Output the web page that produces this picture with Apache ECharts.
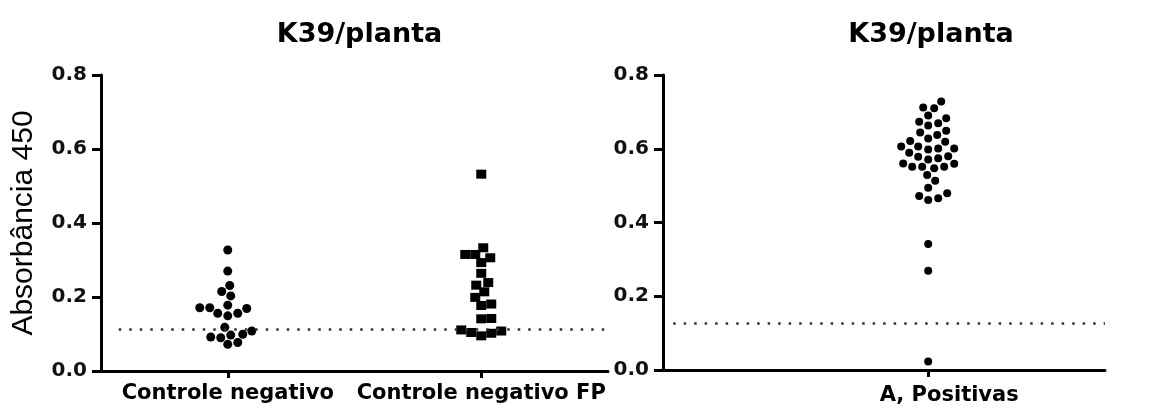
<!DOCTYPE html>
<html>
<head>
<meta charset="utf-8">
<script src="https://cdn.jsdelivr.net/npm/echarts@6/dist/echarts.min.js"></script>
<style>
  html, body { margin: 0; padding: 0; background: #fff; }
  #chart { width: 1168px; height: 408px; }
</style>
</head>
<body>
<div id="chart"></div>
<script>
// categories
const leftCategories = ["Controle negativo", "Controle negativo FP"];
const rightCategories = ["A, Positivas"];
const titles = ["K39/planta", "K39/planta"];

// absorbance values
const controleNegativo = [
  0.327, 0.270, 0.231, 0.215, 0.203, 0.178, 0.171, 0.156, 0.149, 0.156,
  0.169, 0.171, 0.118, 0.108, 0.097, 0.090, 0.099, 0.092, 0.072, 0.077
];
const controleNegativoFP = [
  0.532, 0.333, 0.315, 0.306, 0.315, 0.293, 0.264, 0.232, 0.239, 0.214,
  0.199, 0.177, 0.181, 0.142, 0.141, 0.111, 0.104, 0.095, 0.102, 0.108
];
const positivas = [
  0.728, 0.712, 0.710, 0.690, 0.683, 0.663, 0.669, 0.673, 0.644, 0.637,
  0.649, 0.628, 0.619, 0.621, 0.601, 0.598, 0.606, 0.606, 0.601, 0.589,
  0.580, 0.578, 0.571, 0.574, 0.559, 0.547, 0.551, 0.551, 0.551, 0.560,
  0.529, 0.513, 0.494, 0.479, 0.466, 0.461, 0.472, 0.342, 0.269, 0.023
];
// cut-off lines
const cutoffLeft = 0.113;
const cutoffRight = 0.128;

// layout
const G1 = { left: 101, top: 75, width: 507, height: 296 };
const G2 = { left: 663, top: 75, width: 442, height: 295 };
const yMax = 0.8;

// simple beeswarm: spread points sideways so they do not overlap (pixels)
function swarm(values, pxPerY, diam) {
  const order = values.map((v, i) => i).sort((a, b) => values[a] - values[b]);
  const placed = [];
  const xs = new Array(values.length);
  for (const i of order) {
    const y = values[i] * pxPerY;
    let best = 0;
    for (let k = 0; k < 400; k++) {
      const cand = k === 0 ? 0 : (k % 2 ? 1 : -1) * Math.ceil(k / 2);
      const ok = placed.every((p) => (p.x - cand) ** 2 + (p.y - y) ** 2 >= diam * diam);
      if (ok) { best = cand; break; }
    }
    placed.push({ x: best, y: y });
    xs[i] = best;
  }
  return xs;
}

function points(values, center, pxPerX, pxPerY, diam) {
  const off = swarm(values, pxPerY, diam);
  return values.map((v, i) => [center + off[i] / pxPerX, v]);
}

const pxX1 = G1.width / 2, pxY1 = G1.height / yMax;
const pxX2 = G2.width / 1, pxY2 = G2.height / yMax;
const rightCenter = 0.6;

const chart = echarts.init(document.getElementById("chart"));

const axisLine = { show: true, onZero: false, lineStyle: { color: "#000", width: 3 } };
const tickStyle = { color: "#000", width: 3 };
const tickFont = { fontFamily: "DejaVu Sans", fontWeight: "bold", fontSize: 20, color: "#111" };
const catFont = { fontFamily: "DejaVu Sans", fontWeight: "bold", fontSize: 21, color: "#000" };
const titleFont = { fontFamily: "DejaVu Sans", fontWeight: "bold", fontSize: 27, color: "#000" };

function yAxis(gridIndex, name) {
  return {
    gridIndex: gridIndex,
    type: "value",
    min: 0, max: yMax, interval: 0.2,
    name: name,
    nameLocation: "middle",
    nameGap: 62,
    nameTextStyle: { fontFamily: "Liberation Sans", fontSize: 30, color: "#000" },
    axisLine: axisLine,
    axisTick: { show: true, length: 9, lineStyle: tickStyle },
    axisLabel: Object.assign({ margin: 14, formatter: (v) => v.toFixed(1) }, tickFont),
    splitLine: { show: false }
  };
}

const dotted = { color: "#333", width: 2.5, type: [2.5, 8] };
const dotStyle = { color: "#000", opacity: 1 };

const option = {
  animation: false,
  backgroundColor: "#fff",
  title: [
    { text: titles[0], left: G1.left + G1.width / 2, top: 16, textAlign: "center", textStyle: titleFont },
    { text: titles[1], left: 926, top: 16, textAlign: "center", textStyle: titleFont }
  ],
  grid: [
    Object.assign({ containLabel: false }, G1),
    Object.assign({ containLabel: false }, G2)
  ],
  xAxis: [
    {
      gridIndex: 0, type: "value", min: 0, max: 2,
      axisLine: axisLine,
      axisTick: { show: true, customValues: [0.5, 1.5], length: 7, lineStyle: tickStyle },
      axisLabel: Object.assign({
        customValues: [0.5, 1.5], margin: 12,
        formatter: (v) => (v < 1 ? leftCategories[0] : leftCategories[1])
      }, catFont),
      splitLine: { show: false }
    },
    {
      gridIndex: 1, type: "value", min: 0, max: 1,
      axisLine: axisLine,
      axisTick: { show: true, customValues: [rightCenter], length: 7, lineStyle: tickStyle },
      axisLabel: Object.assign({
        customValues: [rightCenter + 21 / pxX2], margin: 15,
        formatter: () => rightCategories[0]
      }, catFont),
      splitLine: { show: false }
    }
  ],
  yAxis: [yAxis(0, "Absorbância 450"), yAxis(1, "")],
  series: [
    {
      name: leftCategories[0], type: "scatter", xAxisIndex: 0, yAxisIndex: 0,
      symbol: "circle", symbolSize: 9,
      itemStyle: dotStyle,
      data: points(controleNegativo, 0.5, pxX1, pxY1, 9.5),
      markLine: {
        silent: true, symbol: "none", label: { show: false },
        lineStyle: dotted,
        data: [[{ coord: [0.07, cutoffLeft] }, { coord: [1.99, cutoffLeft] }]]
      }
    },
    {
      name: leftCategories[1], type: "scatter", xAxisIndex: 0, yAxisIndex: 0,
      symbol: "rect", symbolSize: [10, 9],
      itemStyle: dotStyle,
      data: points(controleNegativoFP, 1.5, pxX1, pxY1, 10)
    },
    {
      name: rightCategories[0], type: "scatter", xAxisIndex: 1, yAxisIndex: 1,
      symbol: "circle", symbolSize: 8,
      itemStyle: dotStyle,
      data: points(positivas, rightCenter, pxX2, pxY2, 9.5),
      markLine: {
        silent: true, symbol: "none", label: { show: false },
        lineStyle: dotted,
        data: [[{ coord: [0.023, cutoffRight] }, { coord: [1, cutoffRight] }]]
      }
    }
  ]
};

chart.setOption(option);
</script>
</body>
</html>
